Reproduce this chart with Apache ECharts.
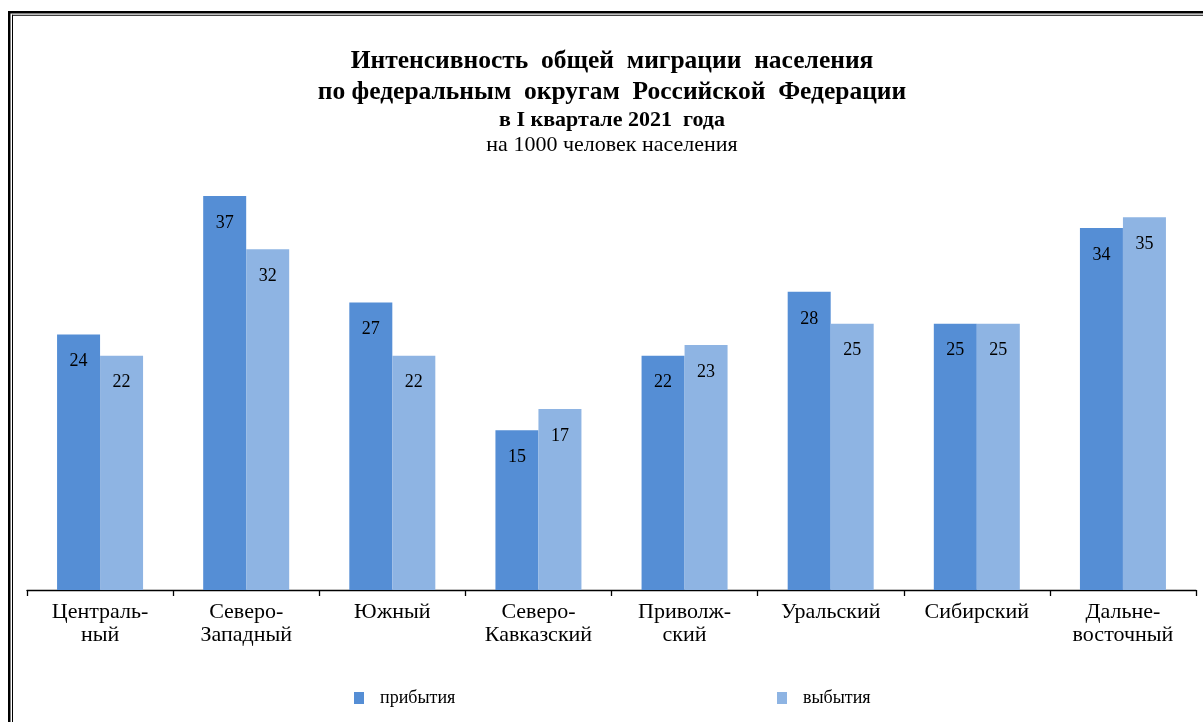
<!DOCTYPE html>
<html>
<head>
<meta charset="utf-8">
<script src="https://cdn.jsdelivr.net/npm/echarts@6/dist/echarts.min.js"></script>
<style>
html,body{margin:0;padding:0;background:#fff;}
#chart{width:1203px;height:722px;}
</style>
</head>
<body>
<div id="chart"></div>
<script>
const categories = ["Централь-\nный","Северо-\nЗападный","Южный","Северо-\nКавказский","Приволж-\nский","Уральский","Сибирский","Дальне-\nвосточный"];
const arrivals = [24, 37, 27, 15, 22, 28, 25, 34];
const departures = [22, 32, 22, 17, 23, 25, 25, 35];
const seriesNames = ["прибытия", "выбытия"];
const titleLines = ["Интенсивность  общей  миграции  населения", "по федеральным  округам  Российской  Федерации", "в I квартале 2021  года", "на 1000 человек населения"];

const SERIF = '"Liberation Serif","Times New Roman",serif';
const C1 = '#558ED5', C2 = '#8EB4E3';

const chart = echarts.init(document.getElementById('chart'));
const labelCfg = {show:true, position:'insideTop', distance:18, color:'#000', fontFamily:SERIF, fontSize:18};
chart.setOption({
  animation:false,
  grid:{left:27, right:7, top:164, bottom:132, containLabel:false},
  xAxis:{type:'category', data:categories,
    axisLine:{lineStyle:{color:'#000', width:1.3}},
    axisTick:{show:true, length:6, lineStyle:{color:'#000', width:1.3}},
    axisLabel:{color:'#000', fontFamily:SERIF, fontSize:22, lineHeight:23, margin:11, interval:0}},
  yAxis:{type:'value', min:0, max:40, show:false, splitLine:{show:false}},
  legend:[
    {data:[seriesNames[0]], left:349, top:684, itemWidth:10, itemHeight:12, icon:'rect',
     textStyle:{fontFamily:SERIF, fontSize:18, color:'#000', padding:[0,0,0,11]}},
    {data:[seriesNames[1]], left:772, top:684, itemWidth:10, itemHeight:12, icon:'rect',
     textStyle:{fontFamily:SERIF, fontSize:18, color:'#000', padding:[0,0,0,11]}}
  ],
  series:[
    {name:seriesNames[0], type:'bar', data:arrivals, barWidth:43, barGap:'0%', itemStyle:{color:C1}, label:labelCfg},
    {name:seriesNames[1], type:'bar', data:departures, barWidth:43, barGap:'0%', itemStyle:{color:C2}, label:labelCfg}
  ],
  graphic:[
    {type:'rect', shape:{x:8, y:11, width:1200, height:2.5}, style:{fill:'#000'}, silent:true},
    {type:'rect', shape:{x:12, y:14.7, width:1200, height:1}, style:{fill:'#000'}, silent:true},
    {type:'rect', shape:{x:8, y:11, width:2.5, height:720}, style:{fill:'#000'}, silent:true},
    {type:'rect', shape:{x:12, y:14.7, width:1, height:720}, style:{fill:'#000'}, silent:true},
    {type:'text', x:612, y:61, style:{text:titleLines[0], font:'bold 25.5px ' + SERIF, fill:'#000', align:'center', verticalAlign:'middle'}},
    {type:'text', x:612, y:92, style:{text:titleLines[1], font:'bold 25.5px ' + SERIF, fill:'#000', align:'center', verticalAlign:'middle'}},
    {type:'text', x:612, y:120, style:{text:titleLines[2], font:'bold 22px ' + SERIF, fill:'#000', align:'center', verticalAlign:'middle'}},
    {type:'text', x:612, y:145, style:{text:titleLines[3], font:'22px ' + SERIF, fill:'#000', align:'center', verticalAlign:'middle'}}
  ]
});
</script>
</body>
</html>
